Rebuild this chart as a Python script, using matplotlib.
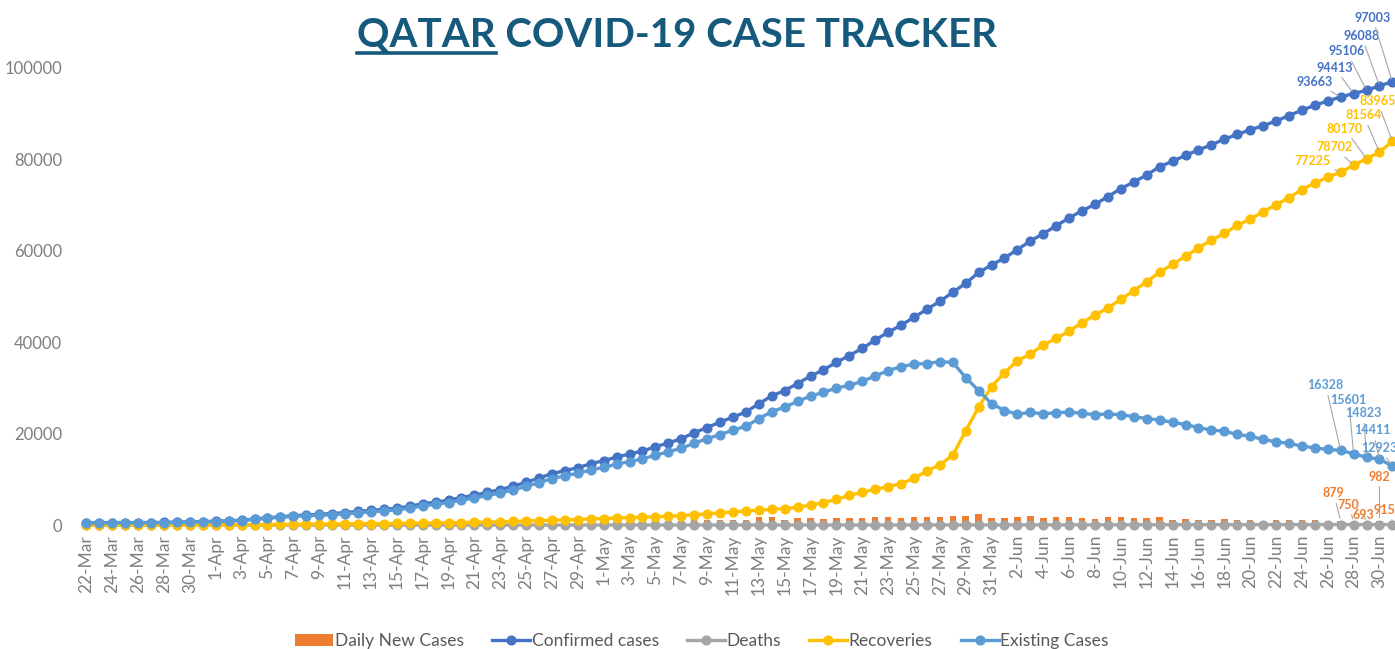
import matplotlib
matplotlib.use('Agg')
import matplotlib.pyplot as plt
from matplotlib.lines import Line2D
import numpy as np
import pandas as pd

plt.rcParams['font.family'] = ['Lato', 'DejaVu Sans']

# 22-Mar .. 1-Jul 2020
dates = pd.date_range('2020-03-22', '2020-07-01')
days = [f"{d.day}-{d.strftime('%b')}" for d in dates]

confirmed = [494, 501, 526, 537, 549, 562, 590, 634, 693, 781,
             835, 949, 1075, 1325, 1604, 1832, 2057, 2210, 2376, 2512,
             2728, 2979, 3231, 3428, 3711, 4103, 4663, 5008, 5448, 6015,
             6533, 7141, 7764, 8525, 9358, 10287, 11244, 11921, 12564, 13409,
             14096, 14872, 15551, 16191, 17142, 17972, 18890, 20201, 21331, 22520,
             23623, 24733, 26539, 28272, 29425, 30972, 32604, 33969, 35606, 37097,
             38651, 40481, 42213, 43714, 45465, 47207, 48947, 50914, 52907, 55262,
             56910, 58433, 60259, 62160, 63741, 65495, 67195, 68790, 70158, 71879,
             73595, 75071, 76588, 78416, 79602, 80876, 82077, 83174, 84441, 85462,
             86488, 87369, 88403, 89579, 90778, 91838, 92784, 93663, 94413, 95106,
             96088, 97003]

deaths = [0, 0, 0, 0, 0, 0, 1, 1, 1, 2,
          2, 2, 3, 3, 3, 4, 4, 6, 6, 6,
          6, 7, 7, 7, 7, 7, 7, 8, 8, 9,
          9, 10, 10, 10, 10, 10, 10, 10, 10, 10,
          12, 12, 12, 12, 12, 12, 12, 12, 13, 14,
          14, 14, 14, 15, 15, 15, 15, 15, 16, 17,
          19, 20, 21, 22, 23, 26, 28, 30, 33, 36,
          38, 40, 40, 43, 45, 45, 49, 54, 59, 63,
          66, 69, 70, 73, 76, 80, 82, 85, 87, 89,
          93, 95, 99, 99, 104, 106, 107, 110, 110, 113,
          113, 115]

recoveries = [33, 37, 43, 43, 46, 51, 51, 51, 51, 62,
              62, 72, 93, 93, 109, 131, 150, 178, 206, 247,
              263, 307, 318, 334, 364, 402, 449, 472, 518, 555,
              610, 651, 750, 805, 888, 983, 1066, 1134, 1193, 1372,
              1436, 1555, 1632, 1716, 1823, 1924, 2070, 2286, 2420, 2700,
              2850, 3100, 3250, 3450, 3600, 3900, 4370, 4900, 5630, 6500,
              7190, 7830, 8400, 9050, 10240, 11840, 13160, 15300, 20600, 25800,
              30290, 33330, 35960, 37440, 39390, 40830, 42450, 44270, 45950, 47490,
              49390, 51280, 53240, 55340, 57040, 58800, 60650, 62320, 63800, 65550,
              66950, 68550, 70080, 71620, 73400, 74840, 76130, 77225, 78702, 80170,
              81564, 83965]

existing = [461, 464, 483, 494, 503, 511, 538, 582, 641, 717,
            771, 875, 979, 1229, 1492, 1697, 1903, 2026, 2164, 2259,
            2459, 2665, 2906, 3087, 3340, 3694, 4207, 4528, 4922, 5451,
            5914, 6480, 7004, 7710, 8460, 9294, 10168, 10777, 11361, 12027,
            12648, 13305, 13907, 14463, 15307, 16036, 16808, 17903, 18898, 19806,
            20759, 21619, 23275, 24807, 25810, 27057, 28219, 29054, 29960, 30580,
            31442, 32631, 33792, 34642, 35202, 35341, 35759, 35584, 32274, 29426,
            26582, 25063, 24259, 24677, 24306, 24620, 24696, 24466, 24149, 24326,
            24139, 23722, 23278, 23003, 22486, 21996, 21345, 20769, 20554, 19823,
            19445, 18724, 18224, 17860, 17274, 16892, 16547, 16328, 15601, 14823,
            14411, 12923]

daily_new = [13, 7, 25, 11, 12, 13, 28, 44, 59, 88,
             54, 114, 126, 250, 279, 228, 225, 153, 166, 136,
             216, 251, 252, 197, 283, 392, 560, 345, 440, 567,
             518, 608, 623, 761, 833, 929, 957, 677, 643, 845,
             687, 776, 679, 640, 951, 830, 918, 1311, 1130, 1189,
             1103, 1110, 1806, 1733, 1153, 1547, 1632, 1365, 1637, 1491,
             1554, 1830, 1732, 1501, 1751, 1742, 1740, 1967, 1993, 2355,
             1648, 1523, 1826, 1901, 1581, 1754, 1700, 1595, 1368, 1721,
             1716, 1476, 1517, 1828, 1186, 1274, 1201, 1097, 1267, 1021,
             1026, 881, 1034, 1176, 1199, 1060, 946, 879, 750, 693,
             982, 915]

c_bar = '#ED7D31'
c_conf = '#4472C4'
c_death = '#A5A5A5'
c_rec = '#FFC000'
c_exist = '#5B9BD5'
title_col = '#155A7C'
grey = '#7F7F7F'

W, H = 1395, 649
fig = plt.figure(figsize=(W / 100, H / 100), dpi=100)
ax = fig.add_axes([80 / W, (H - 525.07) / H, 1315 / W, (525.07 - 68) / H])

x = np.arange(len(days))
bars = ax.bar(x, daily_new, width=0.5, color=c_bar, zorder=1, label='Daily New Cases')
series = [(confirmed, c_conf, 'Confirmed cases'),
          (deaths, c_death, 'Deaths'),
          (recoveries, c_rec, 'Recoveries'),
          (existing, c_exist, 'Existing Cases')]
lines = []
for k, (vals, col, name) in enumerate(series):
    ln, = ax.plot(x, vals, color=col, lw=2.4, marker='o', ms=6.3,
                  clip_on=False, zorder=2 + k, label=name)
    lines.append(ln)

ax.set_xlim(-0.5, -0.5 + 1315 / 12.93)
ax.set_ylim(0, 100000)
ax.set_yticks(range(0, 100001, 20000))
ax.set_xticks(x[::2])
ax.set_xticklabels(days[::2], rotation=90)
ax.tick_params(axis='both', length=0, colors=grey, labelsize=12)
ax.tick_params(axis='x', labelsize=12.5, pad=7)
ax.tick_params(axis='y', pad=13)
for s in ax.spines.values():
    s.set_visible(False)

# data labels on the last five days (offsets in pixels)
lab_font = dict(fontsize=9, fontweight='bold')
lead = dict(arrowstyle='-', color='#A6A6A6', lw=0.8, shrinkA=1, shrinkB=2)
conf_off = [(-26, 15), (-19, 26), (-20, 39), (-18, 50), (-20, 64)]
rec_off = [(-28, 11), (-19, 18), (-22, 30), (-16, 37), (-15, 40)]
exist_off = [(-15, 65), (-5, 54), (-3, 44), (-7, 29), (-13, 18)]
new_off = [(-7, 28), (-5, 17), (-3, 7), (0, 44), (-8, 11)]
for vals, col, offs in [(confirmed, c_conf, conf_off), (recoveries, c_rec, rec_off),
                        (existing, c_exist, exist_off), (daily_new, c_bar, new_off)]:
    for j, off in zip(range(len(x) - 5, len(x)), offs):
        ax.annotate(str(vals[j]), xy=(x[j], vals[j]), xytext=off,
                    textcoords='offset pixels', ha='center', va='center',
                    color=col, arrowprops=lead, zorder=10, **lab_font)

# title with underlined QATAR
tprops = dict(fontsize=29, fontweight='bold', color=title_col)
t = fig.text(677 / W, 1 - 47 / H, 'QATAR COVID-19 CASE TRACKER',
             ha='center', va='baseline', **tprops)
tmp = fig.text(0, 0, 'QATAR', **tprops)
fig.canvas.draw()
bb = t.get_window_extent()
qw = tmp.get_window_extent().width
tmp.remove()
uy = 1 - 53 / H
fig.add_artist(Line2D([bb.x0 / W, (bb.x0 + qw) / W], [uy, uy],
                      transform=fig.transFigure, color=title_col, lw=2.6))

handles = [bars] + lines
leg = fig.legend(handles=handles, loc='center', bbox_to_anchor=(702 / W, 1 - 641 / H),
                 ncol=5, frameon=False, fontsize=12.5, labelcolor='#595959',
                 handlelength=2.2, handletextpad=0.1, columnspacing=1.6)

fig.savefig('out.png', dpi=100)
